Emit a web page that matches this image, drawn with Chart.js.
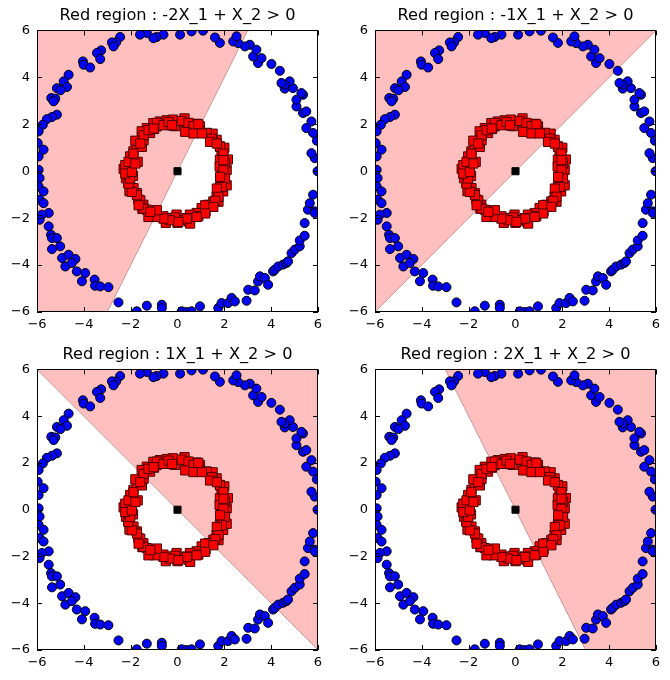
<!DOCTYPE html>
<html>
<head>
<meta charset="utf-8">
<script src="https://cdn.jsdelivr.net/npm/chart.js@4.4.0/dist/chart.umd.min.js"></script>
<style>
  html, body { margin: 0; padding: 0; background: #fff; }
  body { width: 670px; height: 680px; position: relative; overflow: hidden; }
  canvas { position: absolute; }
</style>
</head>
<body>
<canvas id="c0" width="335" height="340" style="left:0;top:0"></canvas>
<canvas id="c1" width="332" height="340" style="left:338px;top:0"></canvas>
<canvas id="c2" width="335" height="339" style="left:0;top:339px"></canvas>
<canvas id="c3" width="332" height="339" style="left:338px;top:339px"></canvas>
<script>
// weight on X_1 for each panel (weight on X_2 is always 1)
const weights = [-2, -1, 1, 2];
const tickValues = [-6, -4, -2, 0, 2, 4, 6];

// outer ring (class 0)
const blueX = [-2.45, -2.62, -2.80, -2.73, -3.26, -3.44, -3.30, -4.04, -4.01, -3.73, -4.65, -4.86, -4.72, -5.15, -5.00,
  -5.39, -5.22, -5.29, -5.15, -5.36, -5.58, -5.75, -5.93, -5.97, -5.72, -5.93, -5.93, -5.89, -5.93, -5.72, -5.89,
  -5.72, -5.50, -5.79, -5.89, -5.50, -5.40, -5.36, -5.15, -5.01, -5.36, -4.93, -4.65, -4.36, -4.79, -4.51, -4.30,
  -3.94, -4.08, -3.54, -3.52, -3.30, -2.95, -2.52, -1.74, -1.31, -0.67, -0.67, 0.18, 0.39, 0.60, 0.96, 1.74, 1.88,
  2.16, 2.31, 2.45, 2.95, 3.02, 3.30, 3.44, 3.52, 3.73, 3.87, 4.08, 4.15, 4.30, 4.51, 4.65, 4.72, 4.87, 5.01, 5.22,
  5.22, 5.43, 5.43, 5.57, 5.86, 5.65, 5.79, 5.86, 5.86, 5.72, 5.98, 5.95, 5.79, 5.50, 5.72, 5.36, 5.50, 5.08, 5.08,
  5.36, 5.29, 4.93, 4.58, 4.79, 4.58, 4.44, 4.37, 4.01, 3.44, 3.59, 3.23, 3.37, 3.09, 2.88, 2.59, 2.38, 2.52, 1.81,
  1.60, 1.09, 0.60, 0.11, -0.60, -0.89, -1.03, -1.31, -1.60];
const blueY = [5.72, 5.49, 5.49, 5.32, 5.15, 5.04, 4.78, 4.68, 4.54, 4.42, 4.11, 3.83, 3.59, 3.54, 3.45,
  3.12, 3.09, 2.98, 2.41, 2.31, 2.22, 1.98, 1.70, 1.20, 0.92, 0.63, 0.06, -0.29, -0.65, -0.86, -1.21,
  -1.36, -1.78, -1.85, -2.07, -2.35, -2.71, -2.85, -2.85, -3.20, -3.32, -3.70, -3.56, -3.74, -4.06, -3.91, -4.27,
  -4.34, -4.69, -4.62, -4.88, -4.91, -4.94, -5.59, -5.97, -5.73, -5.69, -5.83, -5.97, -6.00, -5.97, -5.76, -5.83, -5.62,
  -5.62, -5.40, -5.55, -5.52, -5.05, -5.08, -4.70, -4.48, -4.55, -4.84, -4.27, -4.20, -4.06, -3.98, -3.91, -3.84, -3.49, -3.34, -3.20,
  -2.95, -2.75, -2.21, -1.64, -1.71, -1.36, -1.00, -1.78, 0.56, 0.77, 0.00, 1.30, 1.63, 1.84, 2.12, 2.48, 2.55, 2.76, 3.05,
  3.26, 3.33, 3.54, 3.52, 3.83, 3.69, 3.76, 4.28, 4.57, 4.61, 4.82, 4.89, 5.18, 5.39, 5.32, 5.46, 5.53, 5.75, 5.47,
  5.70, 5.99, 5.96, 5.82, 5.82, 5.72, 5.67, 5.89, 5.82];

// inner ring (class 1)
const redX = [-1.31, -1.03, -0.75, -0.46, -0.32, -0.18, 0.18, 0.39, 0.60, 0.82, 0.96, 0.67, 0.96, 1.24, 1.46, 1.67,
  1.81, 1.88, 1.95, 1.81, 2.02, 2.10, 1.88, 2.02, 1.81, 1.95, 1.67, 1.53, 1.31, 1.03, 0.82, 0.53, 0.39, 0.18, -0.04,
  -0.32, -0.60, -0.89, -1.17, -1.31, -1.46, -1.67, -1.74, -1.88, -2.10, -2.17, -2.10, -2.02, -1.88, -1.74, -1.60,
  -1.46, -1.53, -1.17, -0.89, -2.30, -2.20, -1.95, -2.05, -1.50, -0.50, 0.50, 1.20, 1.75, 2.10, 2.15, 2.00, 1.50,
  0.30, -0.20, -1.00, -1.80, -1.70, -1.90, 0.00, 1.80, 1.90,
  -0.88, -0.60, -0.38, -0.10, 0.18, 0.47, 0.68, 0.89, 1.25, 1.46, 1.39, 1.82, 1.96, 2.03, 1.96, 2.03, 1.89, 1.68,
  1.75, 1.61, 1.18, 0.89, 0.54, 0.18, -0.10, -0.31, -0.60, -0.95, -1.24, -1.45, -1.59, -1.73, -1.95, -2.09, -2.16,
  -2.23, -2.09, -1.88, -1.52, -1.45, -1.45, -1.24, -1.02, -0.24, 0.33, 0.68, 1.04, 1.68, 1.96, 1.82, 1.53, 1.18,
  0.82, 0.40, 0.04, -0.88, -1.16, -1.66, -2.02, -2.23, -1.95, -1.80, -1.59];
const redY = [1.84, 2.05, 2.12, 2.17, 1.98, 1.94, 2.12, 2.05, 1.98, 2.02, 1.91, 1.70, 1.70, 1.63, 1.48, 1.34,
  1.06, 0.77, 0.63, 0.49, 0.35, 0.06, -0.08, -0.36, -0.65, -0.86, -1.07, -1.29, -1.43, -1.57, -1.78, -1.85, -2.00, -2.07, -1.85,
  -2.00, -1.92, -1.90, -1.85, -1.64, -1.43, -1.21, -0.93, -0.72, -0.50, -0.08, 0.28, 0.63, 0.85, 1.06, 1.27,
  1.48, 1.70, 1.63, 1.91, 0.10, -0.30, 0.40, -0.85, -1.60, -2.20, -2.15, -1.70, -1.30, -0.60, 0.50, 1.00, 1.60,
  2.25, 2.20, 1.80, 1.30, 0.40, -0.20, -2.20, 0.20, -0.30,
  2.06, 1.96, 2.10, 1.92, 2.14, 2.06, 1.92, 2.00, 1.63, 1.39, 1.25, 1.04, 0.75, 0.33, 0.04, -0.31, -0.67, -0.74,
  -1.09, -1.26, -1.45, -1.92, -2.23, -2.09, -1.97, -2.09, -2.02, -1.95, -1.95, -1.59, -1.24, -1.02, -0.88, -0.53, -0.10,
  0.26, 0.40, 0.75, 1.04, 1.32, 1.53, 1.75, 1.82, 1.96, 1.68, 1.61, 1.61, 1.18, 0.47, -0.24, -1.52, -1.80,
  -1.95, -2.02, -2.16, -1.66, -1.73, -1.45, -0.31, -0.10, -0.03, 0.33, 1.18];

const fmt = v => (v < 0 ? '\u2212' + (-v) : String(v));

// inward tick marks on all four sides plus the black frame
const frameTicks = {
  id: 'frameTicks',
  afterDatasetsDraw(chart) {
    const { ctx, chartArea: a, scales } = chart;
    ctx.save();
    ctx.strokeStyle = '#000';
    ctx.lineWidth = 1;
    ctx.beginPath();
    tickValues.forEach(v => {
      const px = Math.round(scales.x.getPixelForValue(v)) + 0.5;
      const py = Math.round(scales.y.getPixelForValue(v)) + 0.5;
      ctx.moveTo(px, a.bottom); ctx.lineTo(px, a.bottom - 5);
      ctx.moveTo(px, a.top); ctx.lineTo(px, a.top + 5);
      ctx.moveTo(a.left, py); ctx.lineTo(a.left + 5, py);
      ctx.moveTo(a.right, py); ctx.lineTo(a.right - 5, py);
    });
    ctx.stroke();
    ctx.strokeRect(Math.round(a.left) + 0.5, Math.round(a.top) + 0.5,
      Math.round(a.right - a.left) - 1, Math.round(a.bottom - a.top) - 1);
    ctx.restore();
  }
};

function boundary(w) {
  // edge of the half-plane w*X_1 + X_2 > 0, clipped to the box
  const xs = [-6, -6 / Math.abs(w), 6 / Math.abs(w), 6];
  return xs.map(x => ({ x: x, y: Math.max(-6, Math.min(6, -w * x)) }));
}

const bluePts = blueX.map((x, i) => ({ x: x, y: blueY[i] }));
const redPts = redX.map((x, i) => ({ x: x, y: redY[i] }));

weights.forEach((w, k) => {
  const rightPad = k % 2 === 0 ? 17 : 14;
  new Chart(document.getElementById('c' + k), {
    type: 'scatter',
    data: {
      datasets: [
        {
          data: [{ x: 0, y: 0 }],
          pointStyle: 'rect',
          pointRadius: 5,
          backgroundColor: '#000',
          borderColor: '#000',
          borderWidth: 1,
          clip: 0
        },
        {
          data: redPts,
          pointStyle: 'rect',
          pointRadius: 6.5,
          backgroundColor: '#ff0000',
          borderColor: '#4a0000',
          borderWidth: 1,
          clip: 0
        },
        {
          data: bluePts,
          pointStyle: 'circle',
          pointRadius: 4.5,
          backgroundColor: '#0000ff',
          borderColor: '#000',
          borderWidth: 1,
          clip: 0
        },
        {
          type: 'line',
          data: boundary(w),
          fill: 'end',
          backgroundColor: '#ffbfbf',
          borderColor: '#c89a9a',
          borderWidth: 1,
          pointRadius: 0,
          tension: 0,
          clip: 0
        }
      ]
    },
    options: {
      responsive: false,
      animation: false,
      devicePixelRatio: 1,
      layout: { padding: { top: 1, right: rightPad, left: 0, bottom: 0 } },
      scales: {
        x: {
          type: 'linear',
          min: -6,
          max: 6,
          afterBuildTicks: s => { s.ticks = tickValues.map(v => ({ value: v })); },
          afterFit: s => { s.height = 28; },
          grid: { display: false, drawTicks: false },
          border: { display: false },
          ticks: {
            color: '#000',
            padding: 5,
            font: { family: 'DejaVu Sans', size: 13 },
            callback: fmt
          }
        },
        y: {
          type: 'linear',
          min: -6,
          max: 6,
          afterBuildTicks: s => { s.ticks = tickValues.map(v => ({ value: v })); },
          afterFit: s => { s.width = 37; },
          grid: { display: false, drawTicks: false },
          border: { display: false },
          ticks: {
            color: '#000',
            padding: 7,
            font: { family: 'DejaVu Sans', size: 13 },
            callback: fmt
          }
        }
      },
      plugins: {
        legend: { display: false },
        tooltip: { enabled: false },
        title: {
          display: true,
          fullSize: false,
          text: 'Red region : ' + w + 'X_1 + X_2 > 0',
          color: '#000',
          font: { family: 'DejaVu Sans', size: 16.2, weight: 'normal' },
          padding: { top: 5, bottom: 5 }
        }
      }
    },
    plugins: [frameTicks]
  });
});
</script>
</body>
</html>
